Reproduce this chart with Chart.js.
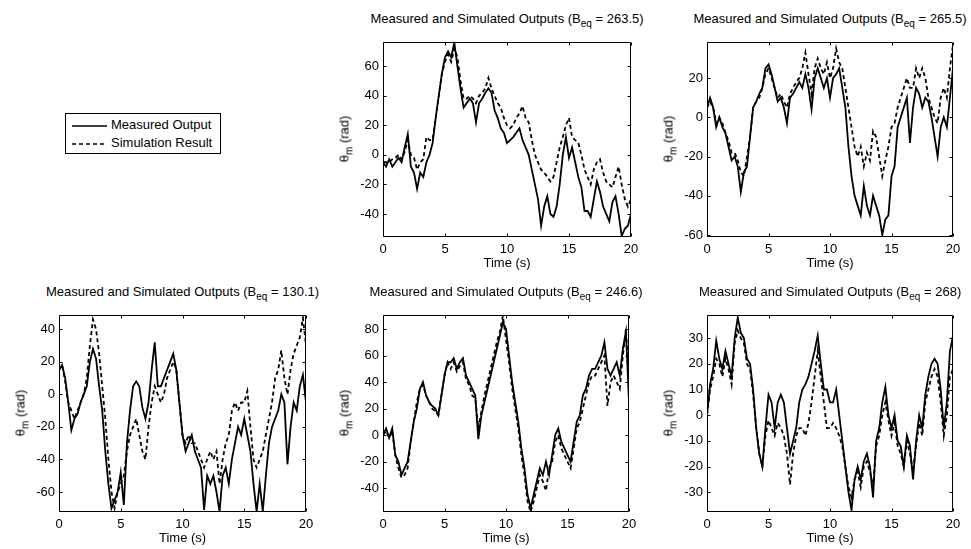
<!DOCTYPE html>
<html>
<head>
<meta charset="utf-8">
<script src="https://cdn.jsdelivr.net/npm/chart.js@4.4.0/dist/chart.umd.min.js"></script>
<style>
  body { margin: 0; background: #fff; font-family: "Liberation Sans", Arial, sans-serif; color: #000; }
  #fig { position: relative; width: 971px; height: 549px; overflow: hidden; }
  #fig canvas { position: absolute; }
  .title, .xlab, .ylab { position: absolute; font-size: 13px; line-height: 15px; white-space: nowrap; }
  sub { font-size: 10px; vertical-align: -4px; line-height: 0; }
  #legend { position: absolute; left: 65px; top: 113px; width: 154px; height: 39px; border: 1px solid #000; font-size: 13px; }
  #legend .row { position: absolute; left: 6px; height: 15px; line-height: 15px; white-space: nowrap; }
  #legend svg { vertical-align: middle; margin-right: 4px; }
</style>
</head>
<body>
<div id="fig">
  <div id="legend">
    <div class="row" style="top:3px"><svg width="35" height="4"><line x1="0" y1="2" x2="35" y2="2" stroke="#000" stroke-width="1.5"/></svg>Measured Output</div>
    <div class="row" style="top:21px"><svg width="35" height="4"><line x1="0" y1="2" x2="35" y2="2" stroke="#000" stroke-width="1.5" stroke-dasharray="4,3"/></svg>Simulation Result</div>
  </div>
</div>
<script>
// time base (s)
const time = [0,0.25,0.5,0.75,1,1.25,1.5,1.75,2,2.25,2.5,2.75,3,3.25,3.5,3.75,4,4.25,4.5,4.75,
  5,5.25,5.5,5.75,6,6.25,6.5,6.75,7,7.25,7.5,7.75,8,8.25,8.5,8.75,9,9.25,9.5,9.75,
  10,10.25,10.5,10.75,11,11.25,11.5,11.75,12,12.25,12.5,12.75,13,13.25,13.5,13.75,14,14.25,14.5,14.75,
  15,15.25,15.5,15.75,16,16.25,16.5,16.75,17,17.25,17.5,17.75,18,18.25,18.5,18.75,19,19.25,19.5,19.75,20];

// B_eq = 263.5
const meas263 = [-5,-8,-3,-8, -5,-2,-5,5, 14,-8,-12,-23, -12,-15,-5,0, 8,25,40,55,
  66,70,66,76, 60,45,32,35, 38,35,22,35, 38,42,45,42, 30,25,18,15,
  8,10,12,15, 18,10,5,0, -10,-20,-30,-48, -35,-28,-40,-42, -35,-20,0,12,
  -2,5,-5,-15, -22,-38,-38,-42, -30,-18,-25,-35, -40,-45,-32,-28, -40,-55,-50,-48, -40];
const sim263 = [-5,-5,-5,-3, -2,0,-3,2, 10,0,-2,-10, -5,-3,12,10, 10,25,40,55,
  63,68,63,72, 66,50,38,38, 40,38,35,40, 42,45,52,45, 40,35,32,25,
  20,18,20,25, 28,33,25,22, 10,0,-5,-10, -12,-15,-18,-15, -5,5,12,20,
  25,12,10,8, 0,-10,-15,-20, -10,-5,-3,-12, -18,-20,-22,-15, -8,-20,-30,-35, -30];

// B_eq = 265.5
const meas265 = [5,10,5,-5, 0,-5,-8,-15, -22,-20,-25,-38, -28,-25,-10,5, 8,12,15,25,
  27,22,15,8, 10,5,-3,10, 12,15,18,15, 22,15,4,20, 25,20,15,20,
  10,20,22,25, 15,5,-15,-30, -40,-45,-50,-35, -45,-50,-40,-45, -50,-60,-52,-50,
  -30,-25,-5,0, 5,10,-13,5, 15,12,5,10, 8,0,-10,-20, -5,0,-5,10, 25];
const sim265 = [5,8,5,-3, 0,-3,-8,-12, -18,-18,-22,-28, -30,-20,-10,5, 8,10,15,22,
  25,20,15,10, 12,8,5,12, 15,18,20,25, 33,22,12,25, 30,25,22,28,
  20,25,35,28, 25,15,5,-5, -15,-20,-15,-25, -18,-22,-7,-10, -20,-30,-22,-15,
  -5,-3,5,10, 15,20,15,15, 25,20,25,20, 10,5,0,-3, 10,15,10,25, 37];

// B_eq = 130.1
const meas130 = [15,18,10,-5, -22,-15,-12,-5, 0,5,20,28, 22,5,-10,-35, -55,-70,-65,-60,
  -48,-68,-30,-10, 5,8,5,-8, -15,-5,15,32, 5,5,10,15, 20,25,15,-5,
  -25,-35,-30,-25, -35,-40,-45,-71, -50,-55,-50,-60, -72,-50,-45,-55, -40,-30,-20,-25,
  -15,-25,-35,-55, -72,-55,-72,-50, -30,-20,-15,-10, 0,-5,-43,-20, -5,-10,5,12, -5];
const sim130 = [15,18,8,-5, -10,-15,-10,-5, 0,10,30,46, 40,25,5,-15, -40,-60,-70,-60,
  -55,-50,-35,-25, -20,-15,-25,-35, -40,-20,-5,5, 0,-5,0,10, 15,20,15,-5,
  -25,-30,-25,-30, -30,-35,-40,-45, -40,-35,-40,-35, -55,-40,-30,-25, -10,-5,-10,-5,
  -5,2,-20,-40, -45,-40,-35,-25, -15,-5,10,15, 27,10,0,15, 25,30,35,47, 30];

// B_eq = 246.6
const meas246 = [0,5,-2,5, -15,-20,-30,-25, -20,-5,10,20, 35,40,30,25, 22,20,15,30,
  45,55,55,58, 50,55,58,45, 40,35,30,-3, 15,25,35,45, 55,65,75,85,
  80,60,40,25, 10,-10,-25,-45, -55,-45,-35,-25, -30,-20,-30,-15, 0,5,-5,-10,
  -15,-20,-5,10, 15,30,35,45, 50,50,55,60, 70,50,45,50, 55,45,65,78, 25];
const sim246 = [0,3,-2,3, -15,-25,-32,-30, -25,-5,10,25, 35,38,30,25, 20,18,15,30,
  45,55,50,55, 48,52,55,42, 38,30,28,5, 18,30,40,50, 60,70,78,90,
  72,55,35,20, 5,-15,-30,-50, -58,-50,-40,-30, -35,-42,-25,-20, -5,0,-10,-15,
  -20,-25,-10,5, 10,20,30,40, 45,45,50,55, 60,22,40,45, 40,35,60,80, 40];

// B_eq = 268
const meas268 = [0,12,18,29, 22,18,25,20, 15,30,38,32, 30,22,20,10, -5,-15,-20,-5,
  8,5,-5,5, 8,5,-5,-15, -10,-5,5,10, 12,15,20,25, 31,20,10,10,
  5,5,10,0, -10,-20,-30,-37, -25,-20,-25,-18, -15,-20,-32,-10, -5,5,11,0,
  -5,0,-10,-12, -20,-8,-12,-25, -10,0,-5,8, 15,20,22,20, 10,-5,5,25, 31];
const sim268 = [0,10,15,22, 20,15,22,18, 12,28,33,30, 28,20,18,8, -5,-15,-20,-8,
  -2,-5,-8,-3, -5,-8,-15,-27, -15,-8,-5,-5, -8,-3,5,15, 25,15,5,-5,
  -5,-3,-5,-8, -12,-20,-28,-32, -25,-22,-28,-20, -18,-22,-28,-12, -8,0,5,-2,
  -8,-3,-12,-15, -20,-10,-15,-22, -12,-3,-8,5, 10,15,18,15, 5,-8,0,15, 18];

const beqLabels = ['263.5', '265.5', '130.1', '246.6', '268'];

// plot boxes: [left, top, width, height] in page pixels
const panels = [
  { beq: beqLabels[0], meas: meas263, sim: sim263, yMin: -55.6, yMax: 76.5, step: 20, box: [383, 40, 248, 197] },
  { beq: beqLabels[1], meas: meas265, sim: sim265, yMin: -61, yMax: 38.5, step: 20, box: [707, 40, 246, 197] },
  { beq: beqLabels[2], meas: meas130, sim: sim130, yMin: -72.3, yMax: 48.9, step: 20, box: [59, 313, 247, 199] },
  { beq: beqLabels[3], meas: meas246, sim: sim246, yMin: -58, yMax: 90.8, step: 20, box: [383, 313, 246, 199] },
  { beq: beqLabels[4], meas: meas268, sim: sim268, yMin: -37.7, yMax: 39.1, step: 10, box: [707, 313, 246, 199] }
];

const FONT = { family: '"Liberation Sans", Arial, sans-serif', size: 13 };
const PADL = 45, PADT = 10, PADR = 14, PADB = 24;

// box around the axes with inward ticks on all four sides (matlab style)
const boxPlugin = {
  id: 'box',
  afterDraw(chart) {
    const { ctx, chartArea: a, scales: { x, y } } = chart;
    const l = Math.round(a.left) + 0.5, t = Math.round(a.top) + 0.5;
    const r = Math.round(a.right) - 0.5, b = Math.round(a.bottom) - 0.5;
    ctx.save();
    ctx.strokeStyle = '#000';
    ctx.lineWidth = 1;
    ctx.beginPath();
    ctx.rect(l, t, r - l, b - t);
    x.ticks.forEach(tk => {
      const px = Math.round(x.getPixelForValue(tk.value)) + 0.5;
      ctx.moveTo(px, b); ctx.lineTo(px, b - 3);
      ctx.moveTo(px, t); ctx.lineTo(px, t + 3);
    });
    y.ticks.forEach(tk => {
      const py = Math.round(y.getPixelForValue(tk.value)) + 0.5;
      ctx.moveTo(l, py); ctx.lineTo(l + 3, py);
      ctx.moveTo(r, py); ctx.lineTo(r - 3, py);
    });
    ctx.stroke();
    ctx.restore();
  }
};

function toXY(vals) {
  return vals.map((v, i) => ({ x: time[i], y: v }));
}

const fig = document.getElementById('fig');

panels.forEach(p => {
  const [L, T, W, H] = p.box;

  const cv = document.createElement('canvas');
  cv.width = W + PADL + PADR;
  cv.height = H + PADT + PADB;
  cv.style.left = (L - PADL) + 'px';
  cv.style.top = (T - PADT) + 'px';
  fig.appendChild(cv);

  const title = document.createElement('div');
  title.className = 'title';
  title.innerHTML = 'Measured and Simulated Outputs (B<sub>eq</sub> = ' + p.beq + ')';
  title.style.top = (T - 29) + 'px';
  fig.appendChild(title);
  title.style.left = (L + W / 2 - title.offsetWidth / 2) + 'px';

  const xl = document.createElement('div');
  xl.className = 'xlab';
  xl.textContent = 'Time (s)';
  xl.style.top = (H + T + 18) + 'px';
  fig.appendChild(xl);
  xl.style.left = (L + W / 2 - xl.offsetWidth / 2) + 'px';

  const yl = document.createElement('div');
  yl.className = 'ylab';
  yl.innerHTML = '\u03b8<sub>m</sub> (rad)';
  yl.style.left = (L - 39) + 'px';
  yl.style.top = (T + H / 2) + 'px';
  yl.style.transform = 'translate(-50%, -50%) rotate(-90deg)';
  fig.appendChild(yl);

  new Chart(cv.getContext('2d'), {
    type: 'line',
    data: {
      datasets: [
        { label: 'Measured Output', data: toXY(p.meas), borderColor: '#000', borderWidth: 1.8, pointRadius: 0, tension: 0 },
        { label: 'Simulation Result', data: toXY(p.sim), borderColor: '#000', borderWidth: 1.8, borderDash: [4, 3], pointRadius: 0, tension: 0 }
      ]
    },
    options: {
      responsive: false,
      animation: false,
      events: [],
      layout: { padding: { top: PADT, right: PADR, left: 0, bottom: 0 } },
      plugins: { legend: { display: false }, tooltip: { enabled: false } },
      scales: {
        x: {
          type: 'linear', min: 0, max: 20,
          ticks: { stepSize: 5, padding: 5, color: '#000', font: FONT, maxRotation: 0 },
          grid: { display: false, drawTicks: false },
          border: { display: false },
          afterFit: s => { s.height = PADB; }
        },
        y: {
          min: p.yMin, max: p.yMax,
          ticks: { stepSize: p.step, includeBounds: false, padding: 4, color: '#000', font: FONT },
          grid: { display: false, drawTicks: false },
          border: { display: false },
          afterFit: s => { s.width = PADL; }
        }
      }
    },
    plugins: [boxPlugin]
  });
});
</script>
</body>
</html>
